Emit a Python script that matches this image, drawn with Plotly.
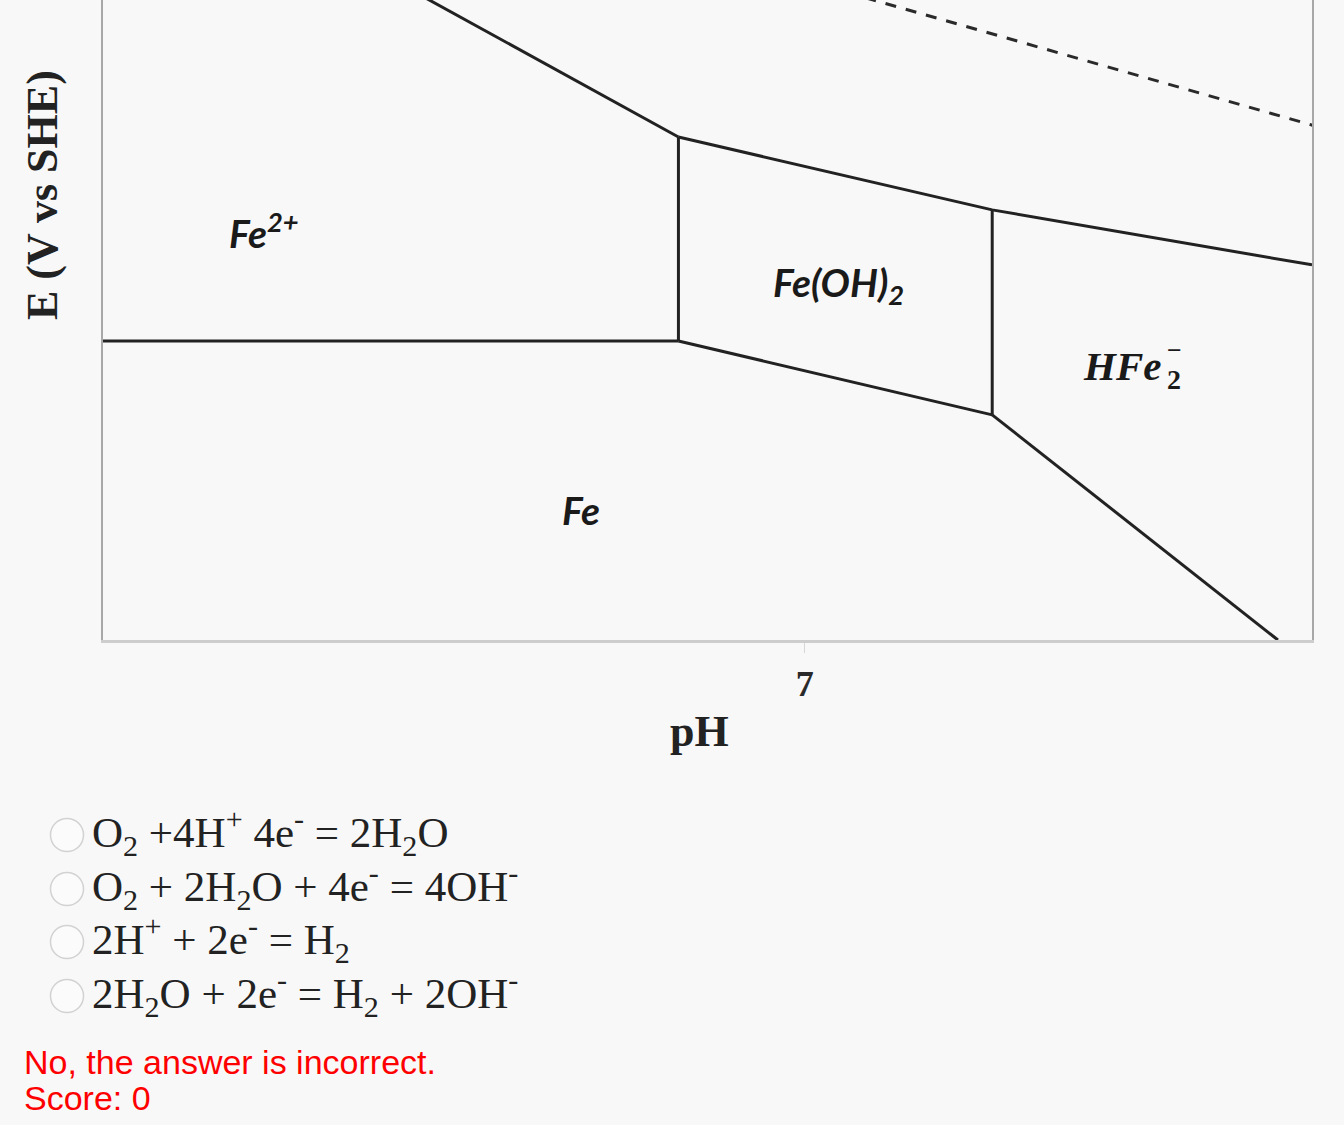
import plotly.graph_objects as go

# ---- data (pH, E in V vs SHE) ----
ph_fe2_fe = [0.0, 5.74]
e_fe2_fe = [-0.44, -0.44]

ph_fe2_feoh2 = [5.74, 5.74]
e_fe2_feoh2 = [-0.44, -0.006]

ph_fe2_fe3 = [2.5, 5.74]
e_fe2_fe3 = [0.374, -0.006]

ph_feoh2_top = [5.74, 8.87, 12.06]
e_feoh2_top = [-0.006, -0.161, -0.278]

ph_feoh2_hfeo2 = [8.87, 8.87]
e_feoh2_hfeo2 = [-0.161, -0.597]

ph_fe_feoh2 = [5.74, 8.87]
e_fe_feoh2 = [-0.44, -0.597]

ph_fe_hfeo2 = [8.87, 11.72]
e_fe_hfeo2 = [-0.597, -1.076]

ph_o2 = [7.0, 12.1]
e_o2 = [0.327, 0.017]

x_ticks = [7]
x_ticklabels = ["7"]

region_labels = ["Fe<sup>2+</sup>", "Fe(OH)<sub>2</sub>", "Fe"]
region_ph = [1.24, 6.66, 4.56]
region_e = [-0.205, -0.32, -0.80]

equations = [
    "O<sub>2</sub> +4H<sup>+</sup> 4e<sup>-</sup> = 2H<sub>2</sub>O",
    "O<sub>2</sub> + 2H<sub>2</sub>O + 4e<sup>-</sup> = 4OH<sup>-</sup>",
    "2H<sup>+</sup> + 2e<sup>-</sup> = H<sub>2</sub>",
    "2H<sub>2</sub>O + 2e<sup>-</sup> = H<sub>2</sub> + 2OH<sup>-</sup>",
]
feedback = ["No, the answer is incorrect.", "Score: 0"]

# ---- layout helpers (pixel -> paper) ----
W, H = 1344, 1125
L, R, T, B = 103, 1312, 0, 640
def fx(px):
    return (px - L) / (R - L)
def fy(py):
    return (B - py) / (B - T)

BG = "#f8f8f8"
LINE = "#222222"

fig = go.Figure()
solid = [
    (ph_fe2_fe, e_fe2_fe), (ph_fe2_feoh2, e_fe2_feoh2), (ph_fe2_fe3, e_fe2_fe3),
    (ph_feoh2_top, e_feoh2_top), (ph_feoh2_hfeo2, e_feoh2_hfeo2),
    (ph_fe_feoh2, e_fe_feoh2), (ph_fe_hfeo2, e_fe_hfeo2),
]
for xs, ys in solid:
    fig.add_trace(go.Scatter(x=xs, y=ys, mode="lines",
                             line=dict(color=LINE, width=3),
                             hoverinfo="skip", showlegend=False))
fig.add_trace(go.Scatter(x=ph_o2, y=e_o2, mode="lines",
                         line=dict(color="#2a2a2a", width=3, dash="11px,10px"),
                         hoverinfo="skip", showlegend=False))

fig.update_layout(
    width=W, height=H,
    margin=dict(l=L, r=W - R, t=T, b=H - B),
    paper_bgcolor=BG, plot_bgcolor=BG,
    showlegend=False,
    xaxis=dict(range=[0, 12.06], showgrid=False, zeroline=False,
               showline=True, linecolor="#cdcdcd", linewidth=2.5,
               tickvals=x_ticks, ticktext=x_ticklabels,
               ticks="outside", ticklen=10, tickcolor="#d6d6d6", tickwidth=1,
               tickfont=dict(family="Liberation Serif", size=36, color="#2a2a2a", weight="bold")),
    yaxis=dict(range=[-1.076, 0.2855], showgrid=False, zeroline=False,
               showline=True, linecolor="#a8a8a8", linewidth=2, mirror=True,
               showticklabels=False, ticks=""),
)

anns = []
label_font = dict(family="Lato", size=39, color="#1a1a1a")
for t, x, y in zip(region_labels, region_ph, region_e):
    anns.append(dict(x=x, y=y, xref="x", yref="y", text="<b><i>" + t + "</i></b>",
                     showarrow=False, xanchor="left", yanchor="middle", font=label_font))
# HFeO2- label (stacked sub/sup)
serif_b = dict(family="Liberation Serif", color="#1a1a1a")
anns.append(dict(x=fx(1081), y=fy(366), xref="paper", yref="paper", text="<b><i>HFe</i></b>",
                 showarrow=False, xanchor="left", yanchor="middle", font=dict(size=41, **serif_b)))
anns.append(dict(x=fx(1165), y=fy(379), xref="paper", yref="paper", text="<b>2</b>",
                 showarrow=False, xanchor="left", yanchor="middle", font=dict(size=28, **serif_b)))
anns.append(dict(x=fx(1165), y=fy(350), xref="paper", yref="paper", text="<b>−</b>",
                 showarrow=False, xanchor="left", yanchor="middle", font=dict(size=26, **serif_b)))

# axis titles
anns.append(dict(x=fx(699), y=fy(731), xref="paper", yref="paper", text="<b>pH</b>",
                 showarrow=False, xanchor="center", yanchor="middle",
                 font=dict(family="Liberation Serif", size=44, color="#222")))
anns.append(dict(x=fx(42), y=fy(195), xref="paper", yref="paper", text="<b>E (V vs SHE)</b>",
                 textangle=-90, showarrow=False, xanchor="center", yanchor="middle",
                 font=dict(family="Liberation Serif", size=44, color="#222")))

# answer options
eq_y = [832, 886, 939, 993]
shapes = []
for t, yy in zip(equations, eq_y):
    anns.append(dict(x=fx(90), y=fy(yy), xref="paper", yref="paper", text=t,
                     showarrow=False, xanchor="left", yanchor="middle",
                     font=dict(family="Liberation Serif", size=43, color="#222")))
    r = 16.5
    cy = yy + 3
    shapes.append(dict(type="circle", xref="paper", yref="paper",
                       x0=fx(67 - r), x1=fx(67 + r), y0=fy(cy + r), y1=fy(cy - r),
                       line=dict(color="#d2d2d2", width=1.5), fillcolor="#fbfbfb"))

for t, yy in zip(feedback, [1062, 1098]):
    anns.append(dict(x=fx(22), y=fy(yy), xref="paper", yref="paper", text=t,
                     showarrow=False, xanchor="left", yanchor="middle",
                     font=dict(family="Liberation Sans", size=34, color="#ff0000")))

fig.update_layout(annotations=anns, shapes=shapes)
fig.write_html("out.html",
               config={"displayModeBar": False},
               post_script="document.body.style.margin='0';document.body.style.background='#f8f8f8';")
